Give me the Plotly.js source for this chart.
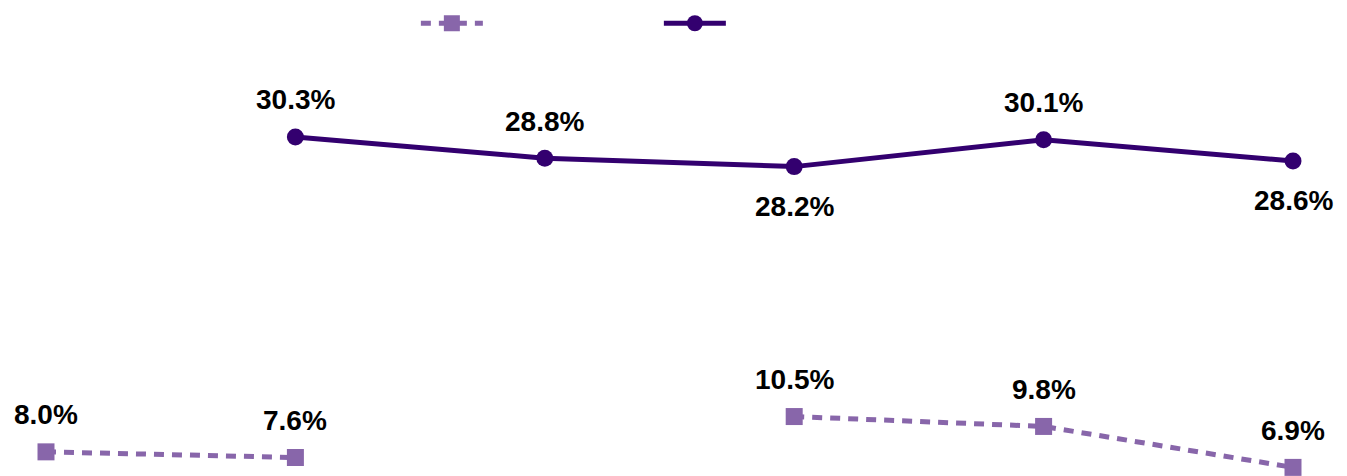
<!DOCTYPE html>
<html>
<head>
<meta charset="utf-8">
<script src="https://cdn.plot.ly/plotly-3.0.1.min.js"></script>
<style>html,body{margin:0;padding:0;background:#fff;}#chart{width:1347px;height:476px;}</style>
</head>
<body>
<div id="chart"></div>
<script>
var categories = ['P1', 'P2', 'P3', 'P4', 'P5', 'P6'];
var seriesA = [8.0, 7.6, null, 10.5, 9.8, 6.9];
var seriesB = [null, 30.3, 28.8, 28.2, 30.1, 28.6];
// label side: 1 = above the point, -1 = below
var seriesASide = [1, 1, 1, 1, 1, 1];
var seriesBSide = [1, 1, 1, -1, 1, -1];

function fmt(v) { return v.toFixed(1) + '%'; }

var labelFont = { family: 'Liberation Sans, Arial, sans-serif', size: 28, color: '#000000', weight: 'bold' };

var traces = [
  {
    x: categories, y: seriesA, name: ' ', type: 'scatter', mode: 'lines+markers',
    line: { color: '#8866aa', width: 5, dash: '10px,8px' },
    marker: { symbol: 'square', size: 17, color: '#8866aa' },
    cliponaxis: false, connectgaps: false, hoverinfo: 'skip'
  },
  {
    x: categories, y: seriesB, name: ' ', type: 'scatter', mode: 'lines+markers',
    line: { color: '#33006f', width: 5 },
    marker: { symbol: 'circle', size: 17, color: '#33006f' },
    cliponaxis: false, connectgaps: false, hoverinfo: 'skip'
  }
];

var annotations = [];
function addLabels(vals, sides) {
  vals.forEach(function (v, i) {
    if (v == null) return;
    annotations.push({
      x: categories[i], y: v, xref: 'x', yref: 'y', text: fmt(v), showarrow: false,
      xanchor: 'center', yanchor: 'middle', yshift: sides[i] > 0 ? 37 : -40,
      font: labelFont
    });
  });
}
addLabels(seriesA, seriesASide);
addLabels(seriesB, seriesBSide);

var layout = {
  width: 1347, height: 476,
  margin: { l: 46, r: 54, t: 0, b: 0, pad: 0 },
  paper_bgcolor: '#ffffff', plot_bgcolor: '#ffffff',
  showlegend: true,
  legend: {
    orientation: 'h', x: 0.2966, xanchor: 'left', y: 0.951, yanchor: 'middle',
    itemwidth: 62, entrywidth: 166, font: { size: 16, color: '#000000' },
    bgcolor: 'rgba(0,0,0,0)', itemclick: false, itemdoubleclick: false
  },
  annotations: annotations,
  xaxis: { type: 'category', range: [0, 5], showgrid: false, zeroline: false, showline: false, showticklabels: false, ticks: '' },
  yaxis: { range: [6.29, 40], showgrid: false, zeroline: false, showline: false, showticklabels: false, ticks: '' },
  font: { family: 'Liberation Sans, Arial, sans-serif' }
};

Plotly.newPlot('chart', traces, layout, { displayModeBar: false, staticPlot: true });
</script>
</body>
</html>
